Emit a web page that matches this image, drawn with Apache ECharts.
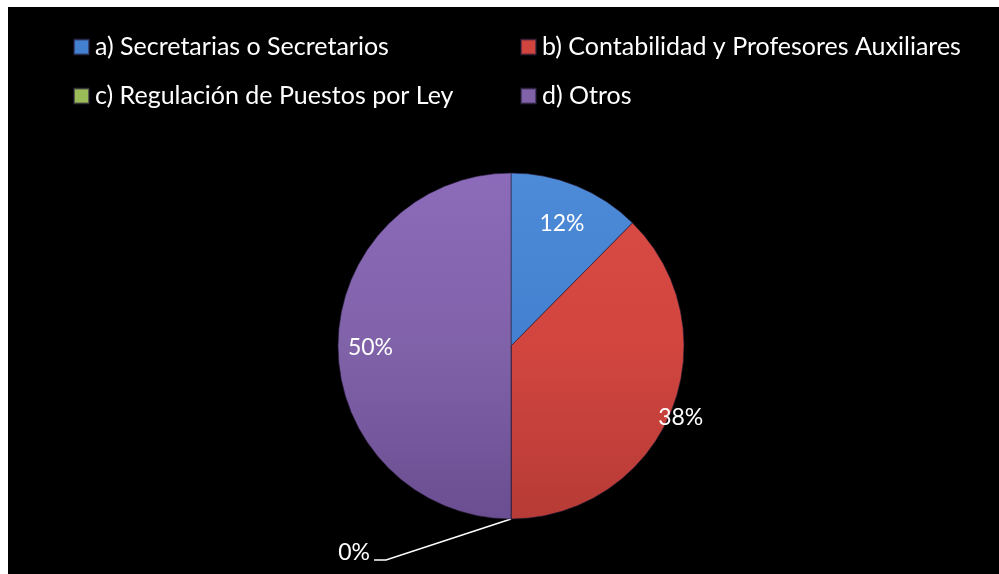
<!DOCTYPE html>
<html>
<head>
<meta charset="utf-8">
<script src="https://cdn.jsdelivr.net/npm/echarts@6/dist/echarts.min.js"></script>
<style>
  html, body { margin: 0; padding: 0; background: #fff; }
  #main { position: absolute; left: 8px; top: 7px; width: 991px; height: 567px; }
</style>
</head>
<body>
<div id="main"></div>
<script>
// categorias y valores (porcentajes)
var categories = [
	'a) Secretarias o Secretarios',
	'b) Contabilidad y Profesores Auxiliares',
	'c) Regulación de Puestos por Ley',
	'd) Otros'
];
var values = [12.4, 37.6, 0, 50];

var flatColors = ['#4380cf', '#d2453f', '#9bbb59', '#8062a9'];
var topColors = ['#4d8bd8', '#da4b45', '#a8c865', '#8c6bba'];
var bottomColors = ['#3a6fb5', '#b73b36', '#86a34a', '#6a4e91'];

var chart = echarts.init(document.getElementById('main'));

var cx = 503, cy = 339, R = 173;
var reach = [1.5, 2.05, 1, 1.57]; // distancia del label respecto al punto medio

function grad(i) {
	return {
		type: 'linear', global: true,
		x: 0, y: cy - R, x2: 0, y2: cy + R,
		colorStops: [
			{ offset: 0, color: topColors[i] },
			{ offset: 0.5, color: flatColors[i] },
			{ offset: 1, color: bottomColors[i] }
		]
	};
}

var pieData = categories.map(function (name, i) {
	var item = { name: name, value: values[i], itemStyle: { color: grad(i) } };
	if (i === 2) {
		item.label = { position: 'outside' };
		item.labelLine = { show: true };
	}
	return item;
});

function legendData(idx) {
	return idx.map(function (i) {
		return { name: categories[i], itemStyle: { color: flatColors[i] } };
	});
}

var legendCommon = {
	orient: 'vertical',
	top: 22,
	itemWidth: 15,
	itemHeight: 15,
	itemGap: 23,
	icon: 'rect',
	selectedMode: false,
	textStyle: { color: '#fff', fontFamily: 'Lato', fontSize: 25, lineHeight: 26, padding: [0, 0, 0, 1] }
};

var option = {
	backgroundColor: '#000',
	animation: false,
	legend: [
		Object.assign({ left: 60, data: legendData([0, 2]) }, legendCommon),
		Object.assign({ left: 507, data: legendData([1, 3]) }, legendCommon)
	],
	series: [{
		type: 'pie',
		center: [cx, cy],
		radius: R,
		startAngle: 90,
		clockwise: true,
		percentPrecision: 0,
		avoidLabelOverlap: false,
		itemStyle: { borderColor: 'rgba(40,30,60,0.6)', borderWidth: 1 },
		label: {
			show: true,
			position: 'inside',
			formatter: '{d}%',
			color: '#fff',
			fontFamily: 'Lato',
			fontSize: 23
		},
		labelLine: { show: false, lineStyle: { color: '#fff', width: 1.5 } },
		labelLayout: function (p) {
			if (p.dataIndex === 2) {
				var s = p.labelLinePoints ? p.labelLinePoints[0] : [cx, cy + R];
				return {
					x: s[0] - 141, y: s[1] + 34, align: 'right', verticalAlign: 'middle',
					labelLinePoints: [s, [s[0] - 125, s[1] + 41], [s[0] - 137, s[1] + 41]]
				};
			}
			var r = p.labelRect;
			var lx = r.x + r.width / 2, ly = r.y + r.height / 2;
			var k = reach[p.dataIndex];
			return {
				x: cx + (lx - cx) * k, y: cy + (ly - cy) * k + 2,
				align: 'center', verticalAlign: 'middle'
			};
		},
		emphasis: { disabled: true },
		data: pieData
	}]
};

chart.setOption(option);
</script>
</body>
</html>
